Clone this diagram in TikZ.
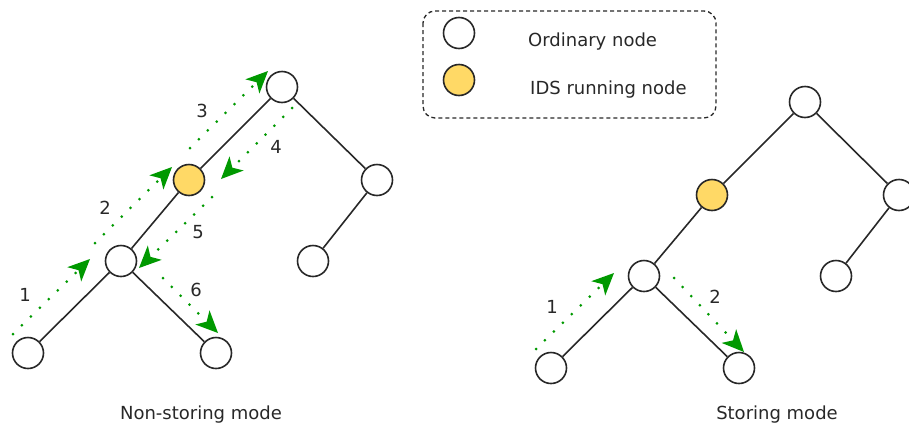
\documentclass[tikz,border=0pt]{standalone}
\usepackage{fontspec}
\setmainfont{DejaVu Sans}
\usepackage{tikz}
\definecolor{idsyellow}{RGB}{255, 217, 102}
\definecolor{edgegray}{RGB}{40, 40, 40}
\definecolor{hopgreen}{RGB}{0, 153, 0}
\usetikzlibrary{arrows.meta, positioning}

\begin{document}
\begin{tikzpicture}[
        x=1pt, y=-1pt,
        every node/.style={font=\fontsize{18}{22}\selectfont, text=edgegray},
        plain/.style={circle, minimum size=31pt, inner sep=0pt, draw=edgegray, line width=1.6pt, fill=white},
        ids/.style={plain, fill=idsyellow},
        link/.style={line width=1.6pt, color=edgegray},
        hop/.style={line width=3pt, color=hopgreen, line cap=round, dash pattern=on 0pt off 12.5pt, -{Stealth[length=22pt, width=20pt, inset=6pt, line width=0pt]}},
        legendbox/.style={draw=edgegray, line width=1.3pt, dash pattern=on 4pt off 3pt, rounded corners=12pt},
        caption/.style={anchor=base, inner sep=0pt},
        legtext/.style={anchor=base west, inner sep=0pt}
    ]
        \useasboundingbox (0,0) rectangle (909,426);

        % Legend
        \draw[legendbox] (423,11) rectangle (716,118);
        \node[plain] (legplain) at (459,33) {};
        \node[ids] (legids) at (459,80) {};
        \node[legtext] (legplaintext) at (528,46) {Ordinary node};
        \node[legtext] (legidstext) at (530,94) {IDS running node};

        % Non-storing tree
        \node[plain] (nroot) at (282,87) {};
        \node[ids] (nids) at (189,180) {};
        \node[plain] (nright) at (377,180) {};
        \node[plain] (nrleaf) at (313,261) {};
        \node[plain] (nmid) at (121,261) {};
        \node[plain] (nsrc) at (28,353) {};
        \node[plain] (ndst) at (216,353) {};
        \draw[link] (nroot) -- (nids);
        \draw[link] (nids) -- (nmid);
        \draw[link] (nmid) -- (nsrc);
        \draw[link] (nmid) -- (ndst);
        \draw[link] (nroot) -- (nright);
        \draw[link] (nright) -- (nrleaf);
        \node[caption] (ncaption) at (201,419) {Non-storing mode};

        % Storing tree
        \node[plain] (sroot) at (805,102) {};
        \node[ids] (sids) at (712,195) {};
        \node[plain] (sright) at (899,195) {};
        \node[plain] (srleaf) at (836,276) {};
        \node[plain] (smid) at (644,276) {};
        \node[plain] (ssrc) at (551,368) {};
        \node[plain] (sdst) at (739,368) {};
        \draw[link] (sroot) -- (sids);
        \draw[link] (sids) -- (smid);
        \draw[link] (smid) -- (ssrc);
        \draw[link] (smid) -- (sdst);
        \draw[link] (sroot) -- (sright);
        \draw[link] (sright) -- (srleaf);
        \node[caption] (scaption) at (777,419) {Storing mode};

        % Hops, non-storing
        \coordinate (n1s) at (13,334);  \coordinate (n1e) at (90,259);
        \coordinate (n2s) at (95,243);  \coordinate (n2e) at (172,167);
        \coordinate (n3s) at (190,148); \coordinate (n3e) at (268,71);
        \coordinate (n4s) at (292,108); \coordinate (n4e) at (221,179);
        \coordinate (n5s) at (212,197); \coordinate (n5e) at (139,268);
        \coordinate (n6s) at (163,278); \coordinate (n6e) at (218,333);
        \draw[hop] (n1s) -- (n1e);
        \draw[hop] (n2s) -- (n2e);
        \draw[hop] (n3s) -- (n3e);
        \draw[hop] (n4s) -- (n4e);
        \draw[hop] (n5s) -- (n5e);
        \draw[hop] (n6s) -- (n6e);
        \node (nlab1) at (25,295) {1};
        \node (nlab2) at (105,208) {2};
        \node (nlab3) at (202,111) {3};
        \node (nlab4) at (276,147) {4};
        \node (nlab5) at (198,232) {5};
        \node (nlab6) at (196,290) {6};

        % Hops, storing
        \coordinate (s1s) at (536,349); \coordinate (s1e) at (614,273);
        \coordinate (s2s) at (674,278); \coordinate (s2e) at (744,352);
        \draw[hop] (s1s) -- (s1e);
        \draw[hop] (s2s) -- (s2e);
        \node (slab1) at (552,307) {1};
        \node (slab2) at (715,297) {2};

    \end{tikzpicture}
\end{document}
